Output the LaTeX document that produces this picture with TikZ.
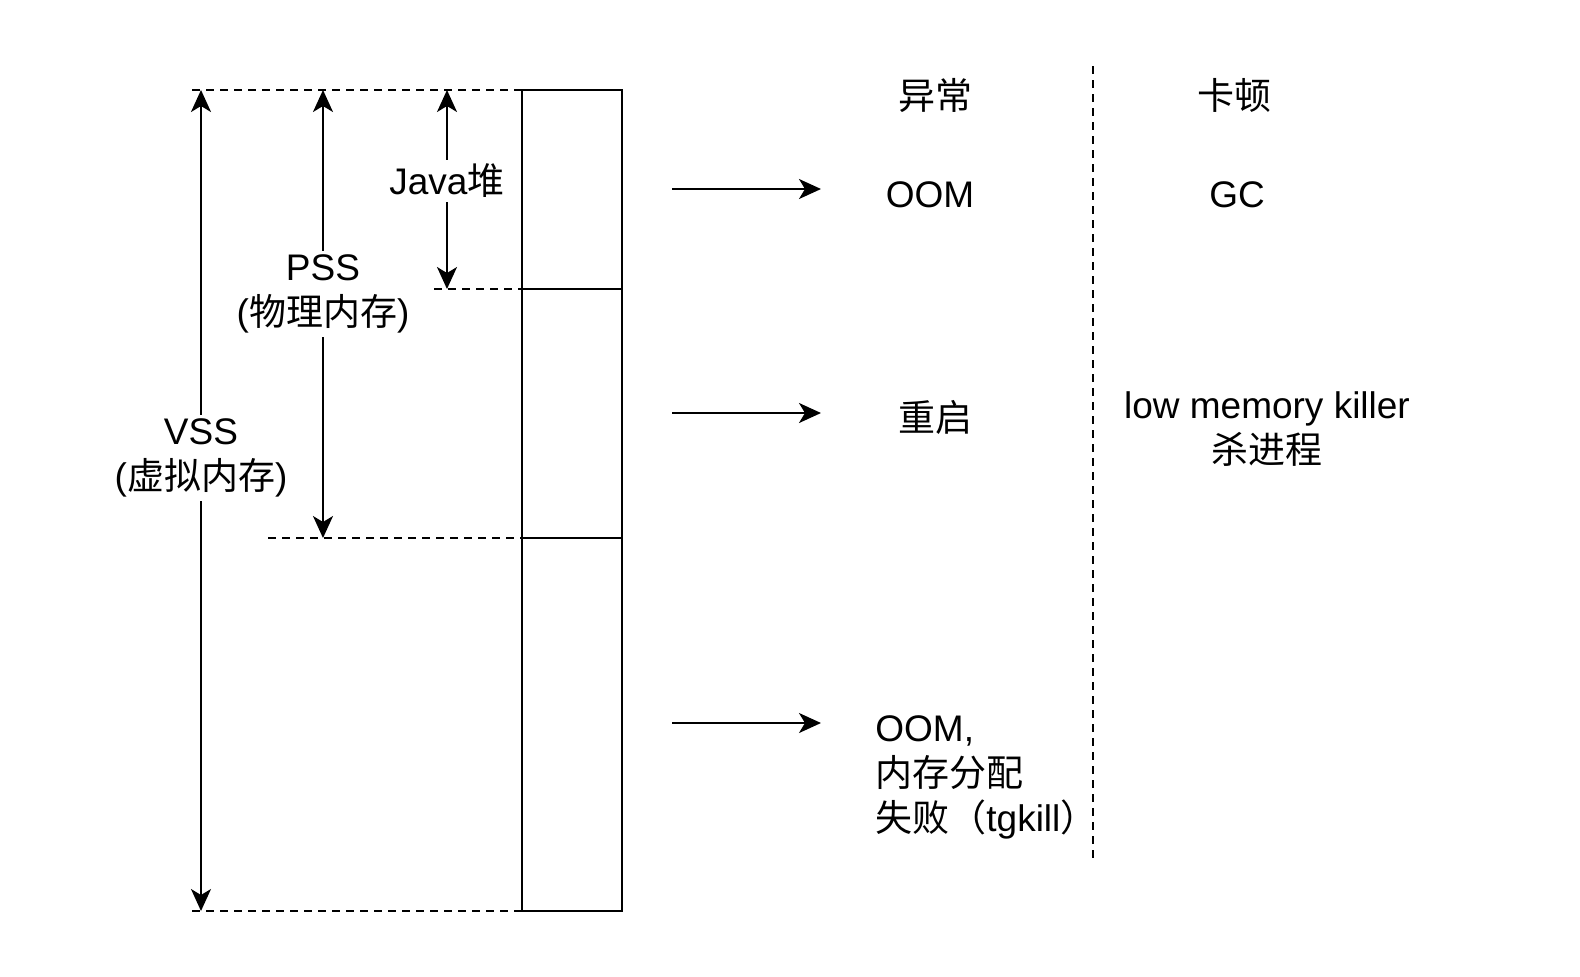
\documentclass[tikz,border=0pt]{standalone}
\usepackage{fontspec}
\setmainfont{Liberation Sans}
\newfontfamily\cjk{Noto Sans CJK SC}
\usetikzlibrary{arrows.meta,positioning}

\begin{document}
\begin{tikzpicture}[x=0.5pt, y=-0.5pt,
        every node/.style={font=\fontsize{18.5}{22.5}\selectfont},
        seg/.style={draw, line width=1pt, minimum width=50pt, inner sep=0pt, outer sep=0pt, anchor=north west},
        guide/.style={dash pattern=on 4pt off 3pt, line width=1pt},
        arrow/.style={-{Stealth[length=11pt,width=10pt,inset=3pt]}, line width=1pt},
        span/.style={{Stealth[length=11pt,width=10pt,inset=3pt]}-{Stealth[length=11pt,width=10pt,inset=3pt]}, line width=1pt},
        lbl/.style={fill=white, align=center, inner sep=2pt},
        txt/.style={align=center, inner sep=0pt}
    ]
        \useasboundingbox (0,0) rectangle (1580,976);

        % Memory column (relative positioning)
        \node[seg, minimum height=99.5pt] (heap) at (522,90) {};
        \node[seg, minimum height=124.5pt] (phys) at (heap.south west) {};
        \node[seg, minimum height=186.5pt] (virt) at (phys.south west) {};

        % Guide line ends
        \coordinate (gtop) at (192,90);
        \coordinate (gheap) at (434,289);
        \coordinate (gphys) at (268,538);
        \coordinate (gbot) at (192,911);

        \draw[guide] (gtop) -- (heap.north west);
        \draw[guide] (gheap) -- (heap.south west);
        \draw[guide] (gphys) -- (phys.south west);
        \draw[guide] (gbot) -- (virt.south west);

        % Size arrows
        \coordinate (vsst) at (201,90);
        \coordinate (vssb) at (201,911);
        \coordinate (psst) at (323,90);
        \coordinate (pssb) at (323,538);
        \coordinate (javat) at (447,90);
        \coordinate (javab) at (447,289);

        \draw[span] (vsst) -- (vssb) node[lbl, pos=0.448] (vss) {VSS\\({\cjk 虚拟内存})};
        \draw[span] (psst) -- (pssb) node[lbl, pos=0.455] (pss) {PSS\\({\cjk 物理内存})};
        \draw[span] (javat) -- (javab) node[lbl, pos=0.457] (java) {Java{\cjk 堆}};

        % Headers and divider
        \node[txt] (exc) at (935,95) {\cjk 异常};
        \node[txt] (lag) at (1234,95) {\cjk 卡顿};
        \coordinate (divt) at (1093,66);
        \coordinate (divb) at (1093,862);
        \draw[guide] (divt) -- (divb);

        % Consequences
        \coordinate (a1s) at (672,189);
        \coordinate (a1e) at (821,189);
        \coordinate (a2s) at (672,413);
        \coordinate (a2e) at (821,413);
        \coordinate (a3s) at (672,723);
        \coordinate (a3e) at (821,723);
        \draw[arrow] (a1s) -- (a1e);
        \draw[arrow] (a2s) -- (a2e);
        \draw[arrow] (a3s) -- (a3e);

        \node[txt] (oom) at (930,195) {OOM};
        \node[txt] (restart) at (935,417) {\cjk 重启};
        \node[txt, align=left, anchor=west] (alloc) at (875,777) {OOM,\\{\cjk 内存分配}\\{\cjk 失败（}tgkill{\cjk ）}};
        \node[txt] (gc) at (1237,195) {GC};
        \node[txt] (lmk) at (1267,429) {low memory killer\\{\cjk 杀进程}};

    \end{tikzpicture}
\end{document}
